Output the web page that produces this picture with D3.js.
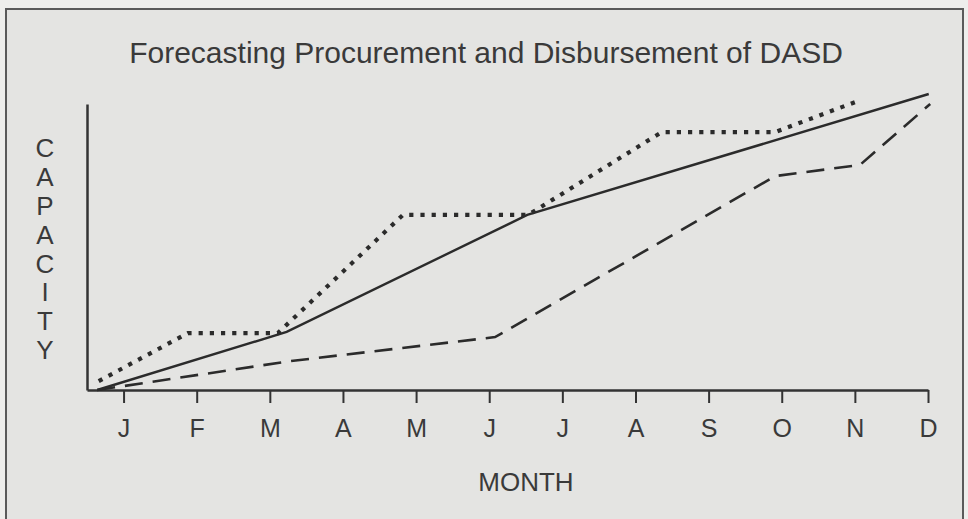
<!DOCTYPE html>
<html>
<head>
<meta charset="utf-8">
<script src="https://cdn.jsdelivr.net/npm/d3@7"></script>
<style>
  html, body { margin: 0; padding: 0; background: #eeeeec; }
  svg { display: block; }
  text { font-family: "Liberation Sans", Arial, Helvetica, sans-serif; fill: #3a3a3a; }
</style>
</head>
<body>
<script>
// months along the bottom, J = 0 ... D = 11
var months = ["J", "F", "M", "A", "M", "J", "J", "A", "S", "O", "N", "D"]

// solid line (month position, capacity)
var solidMonth = [-0.36, 2.23, 5.52, 11.01]
var solidCap   = [0, 20.3, 61.2, 103.5]

// dotted line
var dottedMonth = [-0.34, 0.88, 2.11, 3.82, 5.53, 7.36, 8.91, 10.08]
var dottedCap   = [3.1, 19.9, 19.9, 61.2, 61.2, 90.2, 90.2, 101.4]

// dashed line
var dashedMonth = [-0.36, 2.28, 5.08, 8.91, 10.07, 11.03]
var dashedCap   = [0, 10.1, 18.5, 74.8, 78.7, 100]

var yLetters = "CAPACITY".split("")

var W = 968, H = 519

var svg = d3.select("body").append("svg")
	.attr("width", W)
	.attr("height", H)

// frame
svg.append("rect")
	.attr("x", 6).attr("y", 9)
	.attr("width", 957).attr("height", H)
	.attr("fill", "#e4e4e2")
	.attr("stroke", "#5a5a5a")
	.attr("stroke-width", 2)

var x = d3.scaleLinear().domain([-0.5, 11]).range([87, 928])
  , y = d3.scaleLinear().domain([0, 100]).range([390, 104])

// title
svg.append("text")
	.attr("x", 486).attr("y", 63)
	.attr("text-anchor", "middle")
	.style("font-size", "30px")
	.text("Forecasting Procurement and Disbursement of DASD")

// x axis
var xAxis = d3.axisBottom(x)
	.tickValues(d3.range(months.length))
	.tickFormat(function (d) { return months[d] })
	.tickSize(13)
	.tickSizeOuter(0)
	.tickPadding(16)

var gx = svg.append("g")
	.attr("transform", "translate(0," + y(0) + ")")
	.call(xAxis)

gx.select(".domain").attr("stroke", "#333").attr("stroke-width", 2.5)
gx.selectAll(".tick line").attr("stroke", "#333").attr("stroke-width", 2)
gx.selectAll(".tick text")
	.style("font-size", "25px")
	.attr("fill", "#3a3a3a")
	.style("font-family", "'Liberation Sans', Arial, sans-serif")

// y axis - just the line
var gy = svg.append("g")
	.attr("transform", "translate(" + x(-0.5) + ",0)")
	.call(d3.axisLeft(y).tickValues([]).tickSizeOuter(0))

gy.select(".domain").attr("stroke", "#333").attr("stroke-width", 2.5)

// y label, stacked letters
svg.append("g").selectAll("text")
	.data(yLetters)
	.enter().append("text")
	.attr("x", 45)
	.attr("y", function (d, i) { return 148 + i*28.8 + 9.3 })
	.attr("text-anchor", "middle")
	.style("font-size", "26px")
	.text(function (d) { return d })

// x label
svg.append("text")
	.attr("x", 526).attr("y", 491)
	.attr("text-anchor", "middle")
	.style("font-size", "26px")
	.text("MONTH")

// lines
var line = d3.line()
	.x(function (d) { return x(d[0]) })
	.y(function (d) { return y(d[1]) })

function pairs (ms, cs) {
	return ms.map(function (m, i) { return [m, cs[i]] })
}

svg.append("path")
	.attr("d", line(pairs(dashedMonth, dashedCap)))
	.attr("fill", "none")
	.attr("stroke", "#2b2b2b")
	.attr("stroke-width", 2.6)
	.attr("stroke-dasharray", "18,10")

svg.append("path")
	.attr("d", line(pairs(solidMonth, solidCap)))
	.attr("fill", "none")
	.attr("stroke", "#2b2b2b")
	.attr("stroke-width", 2.4)

svg.append("path")
	.attr("d", line(pairs(dottedMonth, dottedCap)))
	.attr("fill", "none")
	.attr("stroke", "#2b2b2b")
	.attr("stroke-width", 4.2)
	.attr("stroke-dasharray", "4.2,7")
</script>
</body>
</html>
